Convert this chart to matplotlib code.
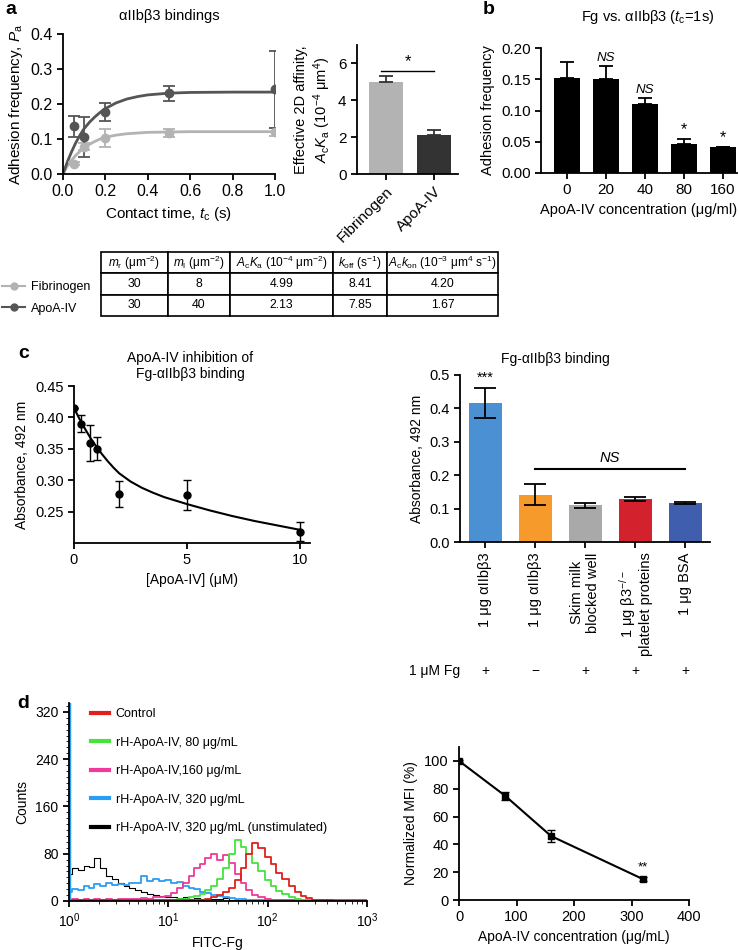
import matplotlib
matplotlib.use('Agg')
import matplotlib.pyplot as plt
from matplotlib.lines import Line2D
from matplotlib.ticker import AutoMinorLocator, LogLocator, NullFormatter

plt.rcParams['font.family'] = ['Liberation Sans', 'DejaVu Sans']
plt.rcParams['mathtext.fontset'] = 'custom'
plt.rcParams['mathtext.rm'] = 'Liberation Sans'
plt.rcParams['mathtext.it'] = 'Liberation Sans:italic'
plt.rcParams['mathtext.bf'] = 'Liberation Sans:bold'
plt.rcParams['font.size'] = 10
plt.rcParams['axes.linewidth'] = 1.3
plt.rcParams['xtick.major.width'] = 1.3
plt.rcParams['ytick.major.width'] = 1.3
plt.rcParams['xtick.major.size'] = 4
plt.rcParams['ytick.major.size'] = 4

# ---- panel a: adhesion frequency vs contact time
tc = [0.05, 0.1, 0.2, 0.5, 1.0]
fib_pa = [0.030, 0.078, 0.103, 0.117, 0.120]
fib_err = [0.004, 0.010, 0.025, 0.012, 0.012]
apo_pa = [0.137, 0.106, 0.177, 0.231, 0.242]
apo_err = [0.030, 0.057, 0.025, 0.021, 0.110]
fit_t = [0, 0.02, 0.04, 0.06, 0.08, 0.1, 0.125, 0.15, 0.175, 0.2, 0.25, 0.3, 0.35, 0.4, 0.5, 0.6, 0.8, 1.0]
fib_fit = [0, 0.022, 0.039, 0.053, 0.065, 0.075, 0.085, 0.093, 0.100, 0.105, 0.111, 0.115, 0.117, 0.119, 0.120, 0.121, 0.121, 0.121]
apo_fit = [0, 0.034, 0.063, 0.089, 0.111, 0.130, 0.148, 0.163, 0.176, 0.187, 0.203, 0.214, 0.221, 0.226, 0.231, 0.233, 0.234, 0.234]

ligands = ['Fibrinogen', 'ApoA-IV']
affinity = [4.99, 2.13]
affinity_err = [0.33, 0.27]

# ---- panel b
b_conc = ['0', '20', '40', '80', '160']
b_freq = [0.152, 0.151, 0.111, 0.047, 0.041]
b_err = [0.026, 0.020, 0.009, 0.007, 0.0]
b_sig = ['', 'NS', 'NS', '*', '*']

# ---- table
tab_cols = ['$m_{\\rm r}$ (μm$^{-2}$)', '$m_{\\rm l}$ (μm$^{-2}$)',
            '$A_{\\rm c}K_{\\rm a}$ (10$^{-4}$ μm$^{-2}$)', '$k_{\\rm off}$ (s$^{-1}$)',
            '$A_{\\rm c}k_{\\rm on}$ (10$^{-3}$ μm$^4$ s$^{-1}$)']
tab_rows = [['30', '8', '4.99', '8.41', '4.20'],
            ['30', '40', '2.13', '7.85', '1.67']]

# ---- panel c left
c_conc = [0, 0.3, 0.7, 1.0, 2, 5, 10]
c_abs = [0.415, 0.390, 0.359, 0.350, 0.278, 0.276, 0.218]
c_err = [0, 0.014, 0.029, 0.018, 0.020, 0.024, 0.015]
c_fit_x = [0, 0.25, 0.5, 0.75, 1, 1.25, 1.5, 1.75, 2, 2.5, 3, 3.5, 4, 5, 6, 7, 8, 9, 10]
c_fit_y = [0.415, 0.397, 0.381, 0.366, 0.353, 0.341, 0.330, 0.320, 0.311, 0.298, 0.288, 0.280, 0.273,
           0.262, 0.252, 0.243, 0.235, 0.228, 0.221]

# ---- panel c right
c2_labels = ['1 μg αIIbβ3', '1 μg αIIbβ3', 'Skim milk\nblocked well',
             '1 μg β3$^{-/-}$\nplatelet proteins', '1 μg BSA']
c2_abs = [0.415, 0.142, 0.110, 0.128, 0.117]
c2_err = [0.045, 0.032, 0.008, 0.006, 0.002]
c2_colors = ['#4a90d2', '#f59a2b', '#a9a9a9', '#d3212e', '#3f5fae']
fg_sign = ['+', '−', '+', '+', '+']

# ---- panel d left: flow histograms
fitc = [1.0, 1.15, 1.3, 1.5, 1.7, 1.9, 2.2, 2.5, 2.9, 3.3, 3.8, 4.3, 5.0, 5.7, 6.5, 7.5, 8.6,
        10, 11.5, 13, 15, 17, 19.5, 22, 25, 29, 33, 38, 43, 50, 57, 65, 75, 86,
        100, 115, 130, 150, 175, 200, 230, 260, 300, 350, 400, 500, 650, 800, 1000]
cnt_unstim = [45, 55, 52, 60, 58, 72, 55, 42, 38, 30, 26, 22, 18, 15, 12, 10, 8,
              7, 6, 5, 6, 4, 5, 4, 3, 4, 3, 5, 2, 2, 1, 1, 1, 0,
              0, 0, 0, 0, 0, 0, 0, 0, 0, 0, 0, 0, 0, 0, 0]
cnt_320 = [15, 20, 18, 25, 22, 28, 26, 30, 27, 29, 27, 31, 30, 42, 33, 38, 34,
           35, 30, 32, 25, 22, 20, 15, 14, 10, 8, 6, 5, 4, 3, 2, 2, 1,
           1, 1, 1, 1, 1, 1, 1, 1, 1, 1, 1, 1, 1, 1, 1]
cnt_320_first_bin = 340
cnt_160 = [2, 3, 1, 3, 2, 3, 2, 3, 2, 4, 3, 4, 3, 5, 4, 6, 7,
           9, 14, 22, 30, 42, 55, 62, 72, 80, 70, 78, 65, 45, 30, 18, 10, 6,
           3, 2, 1, 1, 1, 1, 1, 1, 1, 1, 1, 1, 1, 1, 1]
cnt_80 = [1, 1, 2, 1, 1, 2, 1, 1, 2, 1, 1, 2, 1, 1, 2, 1, 1,
          2, 2, 3, 4, 6, 8, 12, 18, 25, 38, 55, 80, 103, 92, 80, 65, 50,
          35, 25, 17, 12, 7, 4, 2, 1, 1, 0, 0, 0, 0, 0, 0]
cnt_ctrl = [1, 1, 1, 1, 1, 1, 1, 1, 1, 1, 1, 1, 1, 1, 1, 1, 1,
            1, 1, 1, 1, 1, 1, 2, 3, 6, 10, 15, 22, 35, 55, 80, 98, 90,
            75, 62, 48, 38, 25, 15, 9, 5, 2, 1, 1, 0, 0, 0, 0]
hist_series = [('Control', cnt_ctrl, '#e0201b'),
               ('rH-ApoA-IV, 80 μg/mL', cnt_80, '#47e23c'),
               ('rH-ApoA-IV,160 μg/mL', cnt_160, '#f0399a'),
               ('rH-ApoA-IV, 320 μg/mL', cnt_320, '#2a9df4'),
               ('rH-ApoA-IV, 320 μg/mL (unstimulated)', cnt_unstim, 'black')]

# ---- panel d right
mfi_conc = [0, 80, 160, 320]
mfi = [100, 75, 46, 15]
mfi_err = [1, 3, 4, 1.5]

W, H = 739, 950
fig = plt.figure(figsize=(W / 100, H / 100), dpi=100)


def add_ax(l, t, r, b):
    ax = fig.add_axes([l / W, 1 - b / H, (r - l) / W, (b - t) / H])
    ax.spines['top'].set_visible(False)
    ax.spines['right'].set_visible(False)
    return ax


def ftext(x, y, s, **kw):
    return fig.text(x / W, 1 - y / H, s, **kw)


LIGHT, DARK = '#b3b3b3', '#555555'

# panel a - left
ax = add_ax(63, 34, 275, 174)
ax.plot(fit_t, fib_fit, color=LIGHT, lw=2)
ax.plot(fit_t, apo_fit, color=DARK, lw=2)
ax.errorbar(tc, fib_pa, yerr=fib_err, fmt='o', color=LIGHT, ms=6, capsize=4, elinewidth=1.3, capthick=1.3)
ax.errorbar(tc, apo_pa, yerr=apo_err, fmt='o', color=DARK, ms=6, capsize=4, elinewidth=1.3, capthick=1.3)
ax.set_xlim(0, 1.0)
ax.set_ylim(0, 0.4)
ax.set_xticks([0, 0.2, 0.4, 0.6, 0.8, 1.0])
ax.set_yticks([0, 0.1, 0.2, 0.3, 0.4])
ax.tick_params(labelsize=11.5)
ax.set_xlabel('Contact time, $t_{\\rm c}$ (s)', fontsize=11)
ax.set_ylabel('Adhesion frequency, $P_{\\rm a}$', fontsize=11)
ftext(169, 16, 'αIIbβ3 bindings', ha='center', va='center', fontsize=10.5)
ftext(5, 10, 'a', fontsize=14, fontweight='bold', va='center')

# panel a - bars
ax = add_ax(357, 45, 458, 174)
ax.bar(range(2), affinity, width=0.7, color=[LIGHT, '#333333'],
       yerr=[[0, 0], affinity_err], capsize=5, error_kw=dict(elinewidth=1.3, capthick=1.3, ecolor='#333333'))
ax.set_xlim(-0.6, 1.5)
ax.set_ylim(0, 7)
ax.set_yticks([0, 2, 4, 6])
ax.set_xticks(range(2))
ax.set_xticklabels(ligands, rotation=45, ha='right', rotation_mode='anchor')
ax.tick_params(labelsize=11)
ax.set_ylabel('Effective 2D affinity,\n$A_{\\rm c}K_{\\rm a}$ (10$^{-4}$ μm$^{4}$)', fontsize=10.5)
ax.plot([-0.1, 1.0], [5.6, 5.6], color='black', lw=1)
ax.text(0.45, 5.7, '*', ha='center', va='bottom', fontsize=12)

# panel b
ax = add_ax(541, 48, 737, 173)
bx = range(len(b_conc))
ax.bar(bx, b_freq, width=0.68, color='black',
       yerr=[[0] * len(b_err), b_err], capsize=5, error_kw=dict(elinewidth=1.3, capthick=1.3))
for i, s in enumerate(b_sig):
    if s:
        ax.text(i, b_freq[i] + b_err[i] + 0.004, s, ha='center', va='bottom',
                fontsize=9.5 if s == 'NS' else 11.5, style='italic' if s == 'NS' else 'normal')
ax.set_xlim(-0.67, 4.36)
ax.set_ylim(0, 0.2)
ax.set_yticks([0, 0.05, 0.10, 0.15, 0.20])
ax.set_yticklabels(['0.00', '0.05', '0.10', '0.15', '0.20'])
ax.set_xticks(list(bx))
ax.set_xticklabels(b_conc)
ax.tick_params(labelsize=11)
ax.set_ylabel('Adhesion frequency', fontsize=10.5)
ax.set_xlabel('ApoA-IV concentration (μg/ml)', fontsize=10.5)
ftext(648, 17, 'Fg vs. αIIbβ3 ($t_{\\rm c}$=1s)', ha='center', va='center', fontsize=10.5)
ftext(483, 10, 'b', fontsize=14, fontweight='bold', va='center')

# table
ax = fig.add_axes([101 / W, 1 - 316 / H, 397 / W, 64 / H])
ax.axis('off')
tbl = ax.table(cellText=tab_rows, colLabels=tab_cols, colWidths=[67, 62, 103, 54, 111],
               cellLoc='center', bbox=[0, 0, 1, 1])
tbl.auto_set_font_size(False)
tbl.set_fontsize(8.8)
for (r, c), cell in tbl.get_celld().items():
    cell.set_linewidth(1.2)
    cell.PAD = 0.02
    if r == 0:
        cell.get_text().set_fontsize(8.6)
fig.legend(handles=[Line2D([], [], color=LIGHT, marker='o', ms=5, lw=1.5),
                    Line2D([], [], color=DARK, marker='o', ms=5, lw=1.5)],
           labels=ligands, loc='upper left', bbox_to_anchor=(-0.012, 1 - 270 / H),
           frameon=False, fontsize=9, handlelength=1.8, handletextpad=0.5, labelspacing=0.75)

# panel c left
ax = add_ax(74, 386, 310, 543)
ax.plot(c_fit_x, c_fit_y, color='black', lw=1.5)
ax.errorbar(c_conc, c_abs, yerr=c_err, fmt='o', color='black', ms=5, capsize=3,
            elinewidth=1, capthick=1)
ax.set_xlim(0, 10.45)
ax.set_ylim(0.2, 0.45)
ax.set_yticks([0.25, 0.30, 0.35, 0.40, 0.45])
ax.set_yticklabels(['0.25', '0.30', '0.35', '0.40', '0.45'])
ax.set_xticks([0, 5, 10])
ax.tick_params(labelsize=10.5)
ax.set_xlabel('[ApoA-IV] (μM)', fontsize=10)
ax.set_ylabel('Absorbance, 492 nm', fontsize=10)
ftext(190, 366, 'ApoA-IV inhibition of\nFg-αIIbβ3 binding', ha='center', va='center',
      fontsize=10, linespacing=1.25)
ftext(18, 353, 'c', fontsize=14, fontweight='bold', va='center')

# panel c right
ax = add_ax(460, 375, 710, 542)
cx = range(len(c2_abs))
ax.bar(cx, c2_abs, width=0.66, color=c2_colors, yerr=c2_err, capsize=8,
       error_kw=dict(elinewidth=1.3, capthick=1.3))
ax.text(0, c2_abs[0] + c2_err[0] + 0.01, '***', ha='center', va='bottom', fontsize=10.5)
ax.plot([1, 4], [0.218, 0.218], color='black', lw=1.5)
ax.text(2.5, 0.232, 'NS', ha='center', va='bottom', fontsize=10.5, style='italic')
ax.set_xlim(-0.5, 4.5)
ax.set_ylim(0, 0.5)
ax.set_yticks([0, 0.1, 0.2, 0.3, 0.4, 0.5])
ax.set_xticks(list(cx))
ax.set_xticklabels(c2_labels, rotation=90, va='top', ha='center', linespacing=1.1)
ax.tick_params(labelsize=10.5)
ax.set_ylabel('Absorbance, 492 nm', fontsize=10)
tr = ax.get_xaxis_transform()
ax.text(-0.5, -0.77, '1 μM Fg', transform=tr, ha='right', va='center', fontsize=10)
for i, s in enumerate(fg_sign):
    ax.text(i, -0.77, s, transform=tr, ha='center', va='center', fontsize=10)
ftext(555, 359, 'Fg-αIIbβ3 binding', ha='center', va='center', fontsize=10)

# panel d left
ax = add_ax(69, 703, 367, 901)
for label, cnt, col in hist_series[::-1]:
    ax.plot(fitc, cnt, color=col, lw=0.8 if col == 'black' else 1.3,
            drawstyle='steps-mid', label=label)
ax.vlines(fitc[0], 0, cnt_320_first_bin, color='#2a9df4', lw=2.5)
ax.set_xscale('log')
ax.set_xlim(1, 1000)
ax.set_ylim(0, 335)
ax.set_yticks([0, 80, 160, 240, 320])
ax.yaxis.set_minor_locator(AutoMinorLocator(8))
ax.xaxis.set_minor_locator(LogLocator(base=10, subs=range(2, 10)))
ax.xaxis.set_minor_formatter(NullFormatter())
ax.tick_params(labelsize=10)
ax.tick_params(which='minor', length=2.5)
ax.set_xlabel('FITC-Fg', fontsize=10)
ax.set_ylabel('Counts', fontsize=10)
handles = [Line2D([], [], color=col, lw=3) for _, _, col in hist_series]
ax.legend(handles, [h[0] for h in hist_series], loc='upper left', bbox_to_anchor=(0.035, 1.03),
          frameon=False, fontsize=9, handlelength=1.5, labelspacing=1.32, handletextpad=0.5)
ftext(17, 703, 'd', fontsize=14, fontweight='bold', va='center')

# panel d right
ax = add_ax(459, 747, 689, 900)
ax.errorbar(mfi_conc, mfi, yerr=mfi_err, fmt='-s', color='black', ms=5, lw=1.5,
            capsize=3, elinewidth=1, capthick=1)
ax.text(mfi_conc[-1], mfi[-1] + 4, '**', ha='center', va='bottom', fontsize=9.5)
ax.set_xlim(0, 400)
ax.set_ylim(0, 110)
ax.set_xticks([0, 100, 200, 300, 400])
ax.set_yticks([0, 20, 40, 60, 80, 100])
ax.tick_params(labelsize=10.5)
ax.set_xlabel('ApoA-IV concentration (μg/mL)', fontsize=10)
ax.set_ylabel('Normalized MFI (%)', fontsize=10)

fig.savefig('out.png', dpi=100)
